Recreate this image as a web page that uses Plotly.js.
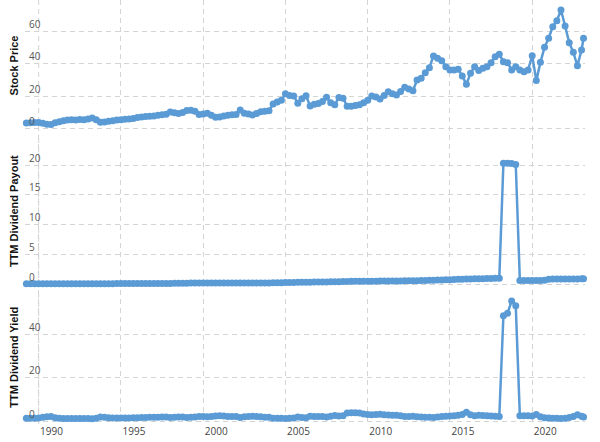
<!DOCTYPE html>
<html>
<head>
<meta charset="utf-8">
<script src="https://cdn.plot.ly/plotly-3.0.1.min.js"></script>
<style>html,body{margin:0;padding:0;background:#fff;}#chart{width:600px;height:442px;}</style>
</head>
<body>
<div id="chart"></div>
<script>
// Quarterly observation dates (decimal years), last one is the latest reading
const dates = [
1989.25,1989.5,1989.75,1990.0,1990.25,1990.5,1990.75,1991.0,1991.25,1991.5,1991.75,1992.0,
1992.25,1992.5,1992.75,1993.0,1993.25,1993.5,1993.75,1994.0,1994.25,1994.5,1994.75,1995.0,
1995.25,1995.5,1995.75,1996.0,1996.25,1996.5,1996.75,1997.0,1997.25,1997.5,1997.75,1998.0,
1998.25,1998.5,1998.75,1999.0,1999.25,1999.5,1999.75,2000.0,2000.25,2000.5,2000.75,2001.0,
2001.25,2001.5,2001.75,2002.0,2002.25,2002.5,2002.75,2003.0,2003.25,2003.5,2003.75,2004.0,
2004.25,2004.5,2004.75,2005.0,2005.25,2005.5,2005.75,2006.0,2006.25,2006.5,2006.75,2007.0,
2007.25,2007.5,2007.75,2008.0,2008.25,2008.5,2008.75,2009.0,2009.25,2009.5,2009.75,2010.0,
2010.25,2010.5,2010.75,2011.0,2011.25,2011.5,2011.75,2012.0,2012.25,2012.5,2012.75,2013.0,
2013.25,2013.5,2013.75,2014.0,2014.25,2014.5,2014.75,2015.0,2015.25,2015.5,2015.75,2016.0,
2016.25,2016.5,2016.75,2017.0,2017.25,2017.5,2017.75,2018.0,2018.25,2018.5,2018.75,2019.0,
2019.25,2019.5,2019.75,2020.0,2020.25,2020.5,2020.75,2021.0,2021.25,2021.5,2021.75,2022.0,
2022.25,2022.5,2022.75,2023.0,2023.12
];

const stockPrice = [
3.5,3.6,3.7,3.8,3.3,2.7,2.6,3.6,4.3,4.8,5.3,5.4,
5.3,5.6,5.5,5.9,6.6,5.5,3.9,4.1,4.6,4.9,5.3,5.4,
5.8,6.0,6.3,6.8,7.2,7.5,7.6,7.8,8.2,8.5,8.9,10.3,
9.8,9.4,9.9,11.2,11.3,10.8,8.8,9.0,9.5,8.2,7.0,7.2,
7.8,8.3,8.6,8.8,11.5,9.5,9.0,8.4,9.3,10.5,10.8,11.1,
15.2,16.5,17.5,21.5,20.5,20.2,15.7,18.5,20.3,14.0,15.0,15.6,
16.7,19.4,16.0,14.8,19.2,18.8,13.8,13.9,14.3,14.8,16.0,17.5,
20.2,19.5,18.3,20.5,22.8,21.5,20.8,23.0,25.6,24.5,23.5,30.1,
31.1,34.6,37.7,45.0,43.5,42.0,38.3,36.3,36.3,36.7,32.6,27.4,
34.2,38.3,35.9,37.3,38.3,40.8,44.5,46.0,41.4,40.8,36.3,38.3,
36.3,35.2,36.3,45.1,29.7,41.0,50.3,55.9,63.1,66.8,73.4,63.5,
53.2,47.2,38.9,48.7,55.9
];

const ttmDividendPayout = [
0.05,0.05,0.05,0.05,0.06,0.06,0.06,0.06,0.06,0.06,0.07,0.07,
0.07,0.07,0.07,0.07,0.08,0.08,0.08,0.08,0.08,0.08,0.09,0.09,
0.09,0.09,0.10,0.10,0.10,0.10,0.11,0.11,0.11,0.12,0.12,0.12,
0.15,0.15,0.16,0.16,0.17,0.17,0.17,0.17,0.18,0.18,0.18,0.18,
0.19,0.19,0.19,0.19,0.20,0.20,0.20,0.20,0.21,0.21,0.21,0.21,
0.22,0.22,0.24,0.26,0.28,0.29,0.30,0.31,0.32,0.33,0.34,0.35,
0.36,0.37,0.38,0.40,0.42,0.44,0.46,0.47,0.48,0.48,0.49,0.49,
0.50,0.50,0.51,0.51,0.52,0.52,0.53,0.53,0.55,0.56,0.57,0.58,
0.60,0.62,0.64,0.66,0.68,0.70,0.72,0.74,0.78,0.82,0.84,0.86,
0.88,0.89,0.90,0.91,0.93,0.95,0.97,0.98,20.30,20.30,20.25,20.10,
0.60,0.60,0.61,0.62,0.62,0.63,0.64,0.84,0.85,0.86,0.86,0.87,
0.87,0.88,0.88,0.89,0.89
];

const ttmDividendYield = [
1.5,1.5,1.4,1.6,1.9,2.1,2.2,1.7,1.4,1.3,1.3,1.3,
1.3,1.3,1.3,1.3,1.2,1.4,2.0,1.9,1.7,1.6,1.6,1.6,
1.6,1.6,1.7,1.7,1.8,1.8,1.9,1.9,1.9,2.0,2.0,1.8,
1.9,2.0,2.0,1.8,1.9,2.0,2.2,2.3,2.1,2.3,2.5,2.6,
2.5,2.3,2.2,2.2,1.8,2.1,2.2,2.4,2.3,2.1,1.9,1.9,
1.5,1.4,1.4,1.3,1.5,1.6,2.0,1.8,1.7,2.4,2.3,2.3,
2.2,2.0,2.4,2.7,2.5,2.6,3.8,4.0,4.0,3.8,3.4,3.2,
3.1,3.2,3.3,3.1,2.9,2.8,2.8,2.6,2.3,2.3,2.4,2.1,
2.0,1.9,1.9,1.8,2.0,2.2,2.4,2.5,2.6,2.8,3.2,4.2,
3.0,2.6,2.8,2.7,2.6,2.5,2.4,2.3,48.4,49.5,55.2,53.0,
2.6,2.6,2.6,2.5,3.2,2.1,1.7,1.6,1.5,1.4,1.3,1.4,
1.8,2.3,3.0,2.4,2.0
];

const yearTicks = [1990, 1995, 2000, 2005, 2010, 2015, 2020];
const priceTicks = [0, 20, 40, 60];
const payoutTicks = [0, 5, 10, 15, 20, 25];
const payoutTickText = ['0', '5', '10', '15', '20', ''];
const yieldTicks = [0, 20, 40, 60];
const yieldTickText = ['0', '20', '40', ''];

const blue = '#5b9bd5';
function series(y, ya) {
  return {
    x: dates, y: y, xaxis: 'x', yaxis: ya,
    type: 'scatter', mode: 'lines+markers',
    line: {color: blue, width: 2.5},
    marker: {color: blue, size: 7},
    cliponaxis: false, showlegend: false, hoverinfo: 'x+y'
  };
}

const gridColor = '#d4d4d4';
const gridDash = '5px,4px';
const tickFontX = {family: 'Open Sans, Arial, sans-serif', size: 10, color: '#444'};
const gridBase = {
  showgrid: true, gridcolor: gridColor, gridwidth: 1, griddash: gridDash,
  zeroline: false, showline: false, ticks: '',
  anchor: 'free', position: 0,
  ticklabelposition: 'inside top',
  tickfont: {family: 'Open Sans, Arial, sans-serif', size: 10, color: '#555'},
  fixedrange: true
};
const titleFont = {family: 'Liberation Sans, Arial, sans-serif', size: 11, color: '#111', weight: 'bold'};

// Plotly hides the first x tick next to the inside y labels; redraw that
// tick's grid line and label so the first year matches the reference.
const firstYear = yearTicks[0];
const shapes = ['y', 'y2', 'y3'].map(function (ya) {
  return {type: 'line', xref: 'x', yref: ya + ' domain', x0: firstYear, x1: firstYear, y0: 0, y1: 1,
          line: {color: gridColor, width: 1, dash: gridDash}, layer: 'below'};
});
const annotations = [{
  xref: 'x', yref: 'paper', x: firstYear, y: 0, yanchor: 'top', xanchor: 'center',
  text: String(firstYear), showarrow: false, xshift: 13, yshift: 2,
  font: tickFontX
}];

const layout = {
  width: 600, height: 442,
  margin: {l: 25, r: 15, t: 0, b: 18},
  paper_bgcolor: '#fff', plot_bgcolor: '#fff',
  showlegend: false,
  shapes: shapes,
  annotations: annotations,
  xaxis: {
    range: [1989.167, 2023.21],
    tickvals: yearTicks, ticktext: yearTicks.map(String),
    showgrid: true, gridcolor: gridColor, griddash: gridDash, zeroline: false,
    showline: false, ticks: '', anchor: 'free', position: 0,
    ticklabelshift: 13,
    tickfont: tickFontX
  },
  yaxis: Object.assign({}, gridBase, {
    domain: [0.691, 1], range: [-1.5, 79.6], tickvals: priceTicks,
    title: {text: 'Stock Price', font: titleFont, standoff: 7}
  }),
  yaxis2: Object.assign({}, gridBase, {
    domain: [0.323, 0.681], range: [-0.49, 25], tickvals: payoutTicks, ticktext: payoutTickText,
    title: {text: 'TTM Dividend Payout', font: titleFont, standoff: 7}
  }),
  yaxis3: Object.assign({}, gridBase, {
    domain: [0, 0.315], range: [-1.19, 60], tickvals: yieldTicks, ticktext: yieldTickText,
    title: {text: 'TTM Dividend Yield', font: titleFont, standoff: 7}
  })
};

Plotly.newPlot('chart', [
  series(stockPrice, 'y'),
  series(ttmDividendPayout, 'y2'),
  series(ttmDividendYield, 'y3')
], layout, {displayModeBar: false, staticPlot: true});
</script>
</body>
</html>
